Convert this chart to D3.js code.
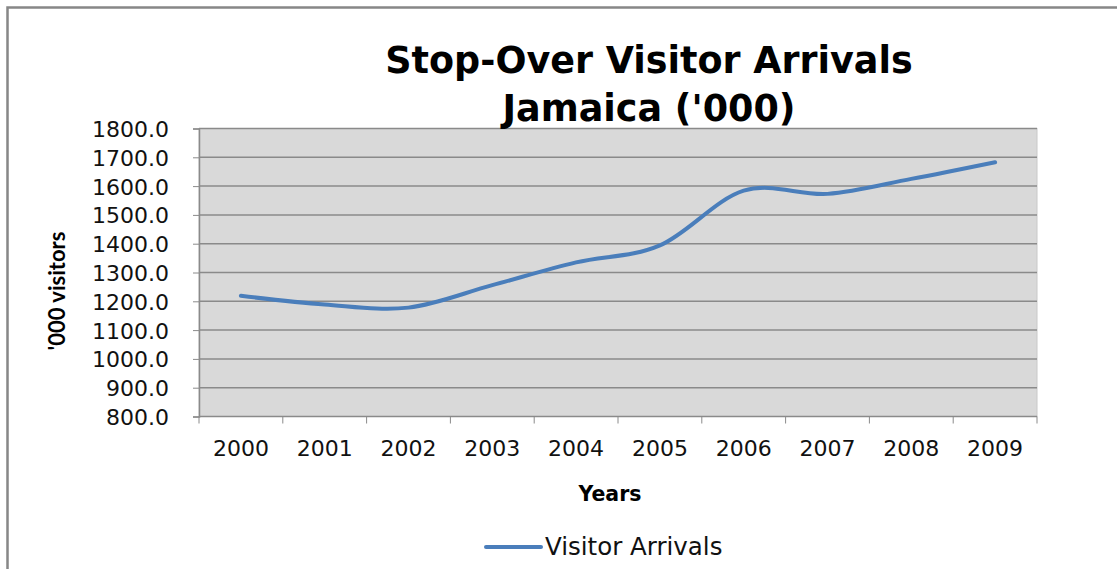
<!DOCTYPE html>
<html>
<head>
<meta charset="utf-8">
<script src="https://cdn.jsdelivr.net/npm/d3@7"></script>
<style>
  body { margin: 0; background: #fff; }
  svg { display: block; }
</style>
</head>
<body>
<svg></svg>
<script>
// data ('000 visitors)
const years = ["2000", "2001", "2002", "2003", "2004", "2005", "2006", "2007", "2008", "2009"];
const arrivals = [1219, 1189, 1178, 1256, 1335, 1394, 1584, 1573, 1625, 1683];
const yTicks = [800, 900, 1000, 1100, 1200, 1300, 1400, 1500, 1600, 1700, 1800];
const titleLines = ["Stop-Over Visitor Arrivals", "Jamaica ('000)"];
const seriesName = "Visitor Arrivals";

const width = 1117, height = 569;
const svg = d3.select("svg").attr("width", width).attr("height", height);
const plot = { left: 199, right: 1037, top: 128.5, bottom: 416.5 };
const font = "'DejaVu Sans', Verdana, sans-serif";

// outer chart frame (only top + left visible in the picture)
svg.append("path")
  .attr("d", `M7.5,${height} V7.5 H${width}`)
  .attr("fill", "none").attr("stroke", "#878787").attr("stroke-width", 2.5);

const x = d3.scaleBand().domain(years).range([plot.left, plot.right]);
const y = d3.scaleLinear().domain([800, 1800]).range([plot.bottom, plot.top]);

// plot background
svg.append("rect")
  .attr("x", plot.left).attr("y", plot.top)
  .attr("width", plot.right - plot.left).attr("height", plot.bottom - plot.top)
  .attr("fill", "#d9d9d9").attr("stroke", "#c8c8c8");

// gridlines
svg.append("g").selectAll("line").data(yTicks.filter(d => d > 800)).join("line")
  .attr("x1", plot.left).attr("x2", plot.right)
  .attr("y1", d => y(d)).attr("y2", d => y(d))
  .attr("stroke", "#8a8a8a").attr("stroke-width", 1.5);

// y axis
const yAxis = svg.append("g")
  .attr("transform", `translate(${plot.left},0)`)
  .call(d3.axisLeft(y).tickValues(yTicks).tickFormat(d3.format(".1f")).tickSizeOuter(0).tickSize(6).tickPadding(24));
yAxis.select(".domain").attr("stroke", "#8a8a8a").attr("stroke-width", 1.5);
yAxis.selectAll(".tick line").attr("stroke", "#8a8a8a");
yAxis.selectAll("text")
  .attr("font-family", font).attr("font-size", 22)
  .attr("fill", "#111").attr("dy", "0.36em");

// x axis - ticks at band edges, labels at band centres
const xg = svg.append("g").attr("transform", `translate(0,${plot.bottom})`);
xg.append("line").attr("x1", plot.left).attr("x2", plot.right)
  .attr("stroke", "#8a8a8a").attr("stroke-width", 1.5);
const edges = years.map(d => x(d)).concat([x(years[years.length - 1]) + x.bandwidth()]);
xg.selectAll("line.tk").data(edges).join("line").attr("class", "tk")
  .attr("x1", d => d).attr("x2", d => d).attr("y1", 0).attr("y2", 7)
  .attr("stroke", "#8a8a8a");
xg.selectAll("text").data(years).join("text")
  .attr("x", d => x(d) + x.bandwidth() / 2).attr("y", 39)
  .attr("text-anchor", "middle")
  .attr("font-family", font).attr("font-size", 22)
  .attr("fill", "#111")
  .text(d => d);

// the series, smoothed like Excel
const line = d3.line()
  .x((d, i) => x(years[i]) + x.bandwidth() / 2)
  .y(d => y(d))
  .curve(d3.curveCardinal.tension(0));
svg.append("path").datum(arrivals)
  .attr("d", line)
  .attr("fill", "none").attr("stroke", "#4a7ebb").attr("stroke-width", 4)
  .attr("stroke-linecap", "round");

// title
svg.append("text")
  .attr("font-family", font).attr("font-weight", "bold")
  .attr("font-size", 36.5).attr("text-anchor", "middle").attr("fill", "#000")
  .selectAll("tspan").data(titleLines).join("tspan")
  .attr("x", 649).attr("y", (d, i) => 73 + i * 48)
  .text(d => d);

// axis titles
svg.append("text")
  .attr("transform", "translate(65,291) rotate(-90)")
  .attr("text-anchor", "middle")
  .attr("font-family", "Lato, sans-serif").attr("font-weight", "bold").attr("font-size", 22)
  .text("'000 visitors");
svg.append("text")
  .attr("x", 610).attr("y", 501).attr("text-anchor", "middle")
  .attr("font-family", font).attr("font-weight", "bold").attr("font-size", 20.5)
  .text("Years");

// legend
const lg = svg.append("g").attr("transform", "translate(486,547)");
lg.append("line").attr("x1", 0).attr("x2", 55)
  .attr("stroke", "#4a7ebb").attr("stroke-width", 4).attr("stroke-linecap", "round");
lg.append("text").attr("x", 59).attr("y", 8)
  .attr("font-family", font).attr("font-size", 24.5).attr("fill", "#111")
  .text(seriesName);
</script>
</body>
</html>
